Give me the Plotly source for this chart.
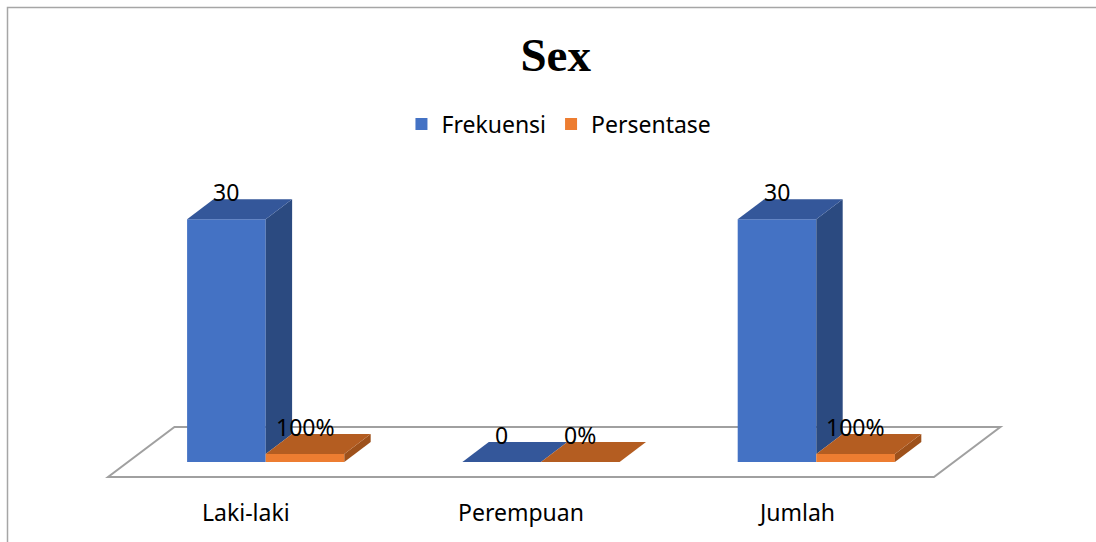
import plotly.graph_objects as go

# ---- data ----
categories = ["Laki-laki", "Perempuan", "Jumlah"]
frekuensi = [30, 0, 30]
persentase = [1, 0, 1]          # fraction (100% = 1)
frek_labels = ["30", "0", "30"]
pers_labels = ["100%", "0%", "100%"]
series_names = ["Frekuensi", "Persentase"]

# ---- geometry (pixel scale of the 3D projection) ----
W, H = 1096, 542
X0_PX, X_UNIT = 265.7, 275.3      # pixel of category 0 (bar plane), px per category
Y0_PX, Y_UNIT = 462.0, 8.09       # pixel of value 0, px per value unit
BAR_W = 78.6 / X_UNIT
DX, DY = 26.4 / X_UNIT, 20.0 / Y_UNIT             # bar depth
FDX, FDY = 20.0 / X_UNIT, 15.0 / Y_UNIT           # floor margin before/behind bars

xr = [(0 - X0_PX) / X_UNIT, (W - X0_PX) / X_UNIT]
yr = [(Y0_PX - H) / Y_UNIT, Y0_PX / Y_UNIT]

FRONT = ["#4472C4", "#ED7D31"]
TOP = ["#34579A", "#B45D21"]
SIDE = ["#2B4A80", "#9E511B"]
FONT = "Noto Sans, Open Sans, sans-serif"

fig = go.Figure()

series = [frekuensi, persentase]
offsets = [-BAR_W, 0.0]
xs = list(range(len(categories)))

# front faces as bars
for s, vals in enumerate(series):
    fig.add_trace(go.Bar(
        x=xs, y=vals, width=BAR_W, offset=offsets[s],
        marker=dict(color=FRONT[s], line=dict(width=0)),
        name=series_names[s], hoverinfo="skip",
    ))

# side and top faces
def poly(px, py, color):
    fig.add_trace(go.Scatter(x=px + [px[0]], y=py + [py[0]], mode="lines",
                             fill="toself", fillcolor=color,
                             line=dict(width=0, color=color),
                             showlegend=False, hoverinfo="skip"))

for i in xs:
    for s, vals in enumerate(series):
        h = vals[i]
        xl = i + offsets[s]
        xrr = xl + BAR_W
        # visible part of the side face (hidden below the next series' top)
        base = series[s + 1][i] if s + 1 < len(series) else 0
        base = min(base, h)
        if h > base:
            poly([xrr, xrr + DX, xrr + DX, xrr],
                 [base, base + DY, h + DY, h], SIDE[s])
        poly([xl, xl + DX, xrr + DX, xrr], [h, h + DY, h + DY, h], TOP[s])

# data labels
labels = [frek_labels, pers_labels]
annotations = []
for s, vals in enumerate(series):
    for i in xs:
        annotations.append(dict(
            x=i + offsets[s] + BAR_W / 2, y=vals[i] + DY, xref="x", yref="y",
            text=labels[s][i], showarrow=False, yanchor="middle", yshift=7,
            font=dict(family=FONT, size=23, color="#000000"),
        ))

# category labels (front of the floor)
for i, c in enumerate(categories):
    annotations.append(dict(
        x=i - FDX, y=1 - 512 / H, xref="x", yref="paper", text=c, showarrow=False,
        yanchor="middle",
        font=dict(family=FONT, size=23, color="#000000"),
    ))

# floor (below traces)
fx0, fx1 = -0.5 - FDX, len(categories) - 0.5 - FDX
fy0 = -FDY
bx = DX + 2 * FDX
by = DY + 2 * FDY
floor_path = (f"M {fx0},{fy0} L {fx1},{fy0} L {fx1 + bx},{fy0 + by} "
              f"L {fx0 + bx},{fy0 + by} Z")

shapes = [
    dict(type="path", path=floor_path, xref="x", yref="y", layer="below",
         fillcolor="white", line=dict(color="#A0A0A0", width=2)),
    dict(type="rect", xref="paper", yref="paper", x0=7.5 / W, x1=1.02,
         y0=-0.05, y1=1 - 7.5 / H, layer="below",
         line=dict(color="#A6A6A6", width=1.5), fillcolor="rgba(0,0,0,0)"),
]

fig.update_layout(
    width=W, height=H, autosize=False,
    margin=dict(l=0, r=0, t=0, b=0),
    paper_bgcolor="white", plot_bgcolor="white",
    barmode="overlay",
    xaxis=dict(range=xr, visible=False, fixedrange=True),
    yaxis=dict(range=yr, visible=False, fixedrange=True),
    title=dict(text="<b>Sex</b>", x=0.507, xanchor="center", y=1 - 55 / H, yanchor="middle",
               font=dict(family="Liberation Serif, Times New Roman, serif", size=47, color="#000000")),
    legend=dict(orientation="h", x=0.51, xanchor="center", y=1 - 124 / H, yanchor="middle",
                font=dict(family=FONT, size=23, color="#000000"),
                itemsizing="constant", bgcolor="rgba(0,0,0,0)"),
    annotations=annotations,
    shapes=shapes,
    showlegend=True,
)

fig.write_html("out.html")
